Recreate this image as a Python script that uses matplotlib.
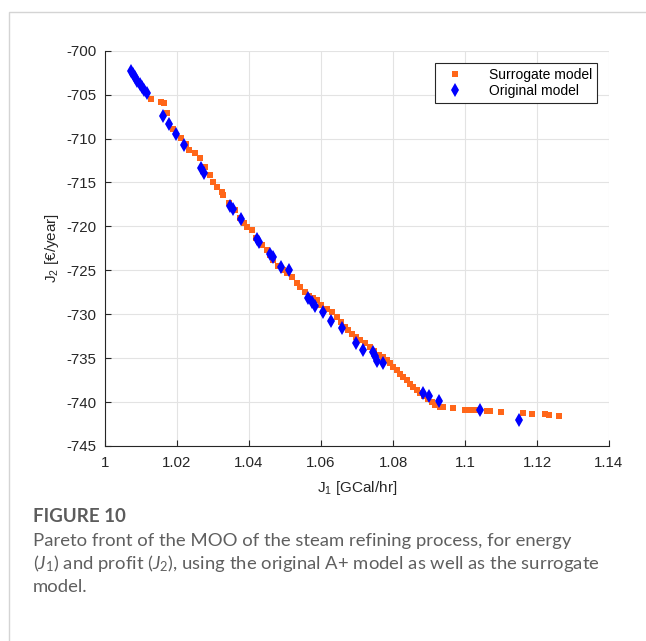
import matplotlib.pyplot as plt
from matplotlib.patches import Rectangle

plt.rcParams['mathtext.fontset'] = 'custom'
plt.rcParams['mathtext.it'] = 'Lato:italic'
plt.rcParams['mathtext.rm'] = 'Lato'
plt.rcParams['axes.unicode_minus'] = False

# surrogate model pareto points (J1, J2)
surr_j1 = [1.0127, 1.0155, 1.0165, 1.0173, 1.0190, 1.0211, 1.0225, 1.0234, 1.0250, 1.0264,
           1.0278, 1.0292, 1.0301, 1.0310, 1.0324, 1.0329, 1.0345, 1.0361, 1.0375, 1.0385,
           1.0394, 1.0407, 1.0420, 1.0435, 1.0449, 1.0458, 1.0468, 1.0480, 1.0494, 1.0506,
           1.0519, 1.0532, 1.0542, 1.0555, 1.0566, 1.0577, 1.0588, 1.0600, 1.0616, 1.0630,
           1.0644, 1.0655, 1.0667, 1.0675, 1.0685, 1.0696, 1.0708, 1.0722, 1.0736, 1.0748,
           1.0760, 1.0771, 1.0782, 1.0792, 1.0801, 1.0810, 1.0819, 1.0828, 1.0838, 1.0847,
           1.0856, 1.0866, 1.0875, 1.0885, 1.0896, 1.0907, 1.0918, 1.0931, 1.0940, 1.0966,
           1.1000, 1.1014, 1.1028, 1.1040, 1.1060, 1.1069, 1.1099, 1.1162, 1.1185, 1.1222,
           1.1234, 1.1261]
surr_j2 = [-705.5, -705.8, -706.0, -707.1, -708.9, -709.9, -710.6, -711.3, -711.7, -712.25,
           -713.2, -714.15, -714.9, -715.5, -716.05, -716.4, -717.3, -718.15, -719.0, -719.6,
           -720.05, -720.4, -721.3, -722.1, -722.7, -723.3, -723.85, -724.5, -725.0, -725.3,
           -725.75, -726.5, -726.9, -727.5, -727.9, -728.2, -728.4, -729.0, -729.35, -729.8,
           -730.3, -730.9, -731.4, -731.8, -732.2, -732.6, -732.95, -733.3, -733.7, -734.2,
           -734.6, -734.9, -735.2, -735.6, -736.0, -736.4, -736.75, -737.1, -737.5, -737.9,
           -738.25, -738.6, -739.0, -739.35, -739.6, -740.0, -740.3, -740.55, -740.55, -740.65,
           -740.85, -740.85, -740.9, -740.95, -741.0, -741.0, -741.1, -741.3, -741.35, -741.4,
           -741.45, -741.6]

# original A+ model pareto points
orig_j1 = [1.0071, 1.0077, 1.0083, 1.0090, 1.0096, 1.0102, 1.0109, 1.0116,
           1.0160, 1.0178, 1.0196, 1.0220, 1.0268, 1.0275, 1.0347, 1.0355, 1.0377,
           1.0421, 1.0427, 1.0458, 1.0466, 1.0488, 1.0510, 1.0565, 1.0574, 1.0583,
           1.0606, 1.0627, 1.0658, 1.0696, 1.0718, 1.0744, 1.0750, 1.0756, 1.0773,
           1.0883, 1.0900, 1.0929, 1.1042, 1.1151]
orig_j2 = [-702.3, -702.7, -703.05, -703.4, -703.8, -704.1, -704.5, -704.85,
           -707.4, -708.35, -709.5, -710.7, -713.4, -713.9, -717.65, -718.05, -719.2,
           -721.45, -721.75, -723.15, -723.5, -724.65, -725.0, -728.1, -728.6, -729.1,
           -729.8, -730.75, -731.6, -733.25, -734.1, -734.3, -734.8, -735.3, -735.6,
           -739.0, -739.3, -739.85, -740.85, -742.0]

xticks = [1, 1.02, 1.04, 1.06, 1.08, 1.1, 1.12, 1.14]
xticklabels = ['1', '1.02', '1.04', '1.06', '1.08', '1.1', '1.12', '1.14']
yticks = list(range(-745, -699, 5))

fig = plt.figure(figsize=(6.46, 6.41), dpi=100)
# light page frame
fig.patches.append(Rectangle((9 / 646, -0.1), 1.2, 1 - 12 / 641 + 0.1, transform=fig.transFigure,
                             fill=False, edgecolor='#d4d4d4', linewidth=1.0))

ax = fig.add_axes([105 / 646, 1 - 446 / 641, 504 / 646, 395.3 / 641])
ax.plot(surr_j1, surr_j2, 's', color='#ff6619', markersize=4.2, markeredgewidth=0,
        label='Surrogate model')
ax.plot(orig_j1, orig_j2, 'd', color='#0000ff', markersize=7.5, markeredgewidth=0,
        label='Original model')

ax.set_xlim(1, 1.14)
ax.set_ylim(-745, -700)
ax.set_xticks(xticks)
ax.set_xticklabels(xticklabels)
ax.set_yticks(yticks)
ax.grid(True, color='#e3e3e3', linewidth=0.8)
ax.set_axisbelow(True)
ax.spines['top'].set_visible(False)
ax.spines['right'].set_visible(False)
for s in ['left', 'bottom']:
    ax.spines[s].set_color('#262626')
    ax.spines[s].set_linewidth(0.8)
ax.tick_params(direction='in', length=4, width=0.8, color='#262626', labelsize=10.8,
               labelcolor='#262626')
ax.tick_params(axis='y', pad=6)
ax.tick_params(axis='x', pad=7)
for lab in ax.get_xticklabels() + ax.get_yticklabels():
    lab.set_fontfamily('Liberation Sans')

ax.set_xlabel(r'J$_\mathregular{1}$ [GCal/hr]', fontsize=11, family='Liberation Sans',
              color='#262626', labelpad=7)
ax.set_ylabel(r'J$_\mathregular{2}$ [€/year]', fontsize=11, family='Liberation Sans',
              color='#262626', labelpad=4)

leg = ax.legend(loc='upper right', bbox_to_anchor=(0.976, 0.969), borderaxespad=0,
                prop={'family': 'Liberation Sans', 'size': 10},
                fancybox=False, framealpha=1, edgecolor='#262626', borderpad=0.35,
                handletextpad=1.3, labelspacing=0.15, handlelength=2.2)
leg.get_frame().set_linewidth(0.8)

fig.text(33 / 646, 1 - 516 / 641, 'FIGURE 10', fontsize=13.5, family='Lato', weight='bold',
         color='#5c5c5c', va='center')
caption = ['Pareto front of the MOO of the steam refining process, for energy',
           r'($\mathit{J}_\mathregular{1}$) and profit ($\mathit{J}_\mathregular{2}$), using the original A+ model as well as the surrogate',
           'model.']
for i, line in enumerate(caption):
    fig.text(33 / 646, 1 - (541 + 23 * i) / 641, line, fontsize=13.3, family='Lato',
             color='#5f5f5f', va='center')

fig.savefig('out.png', dpi=100)
